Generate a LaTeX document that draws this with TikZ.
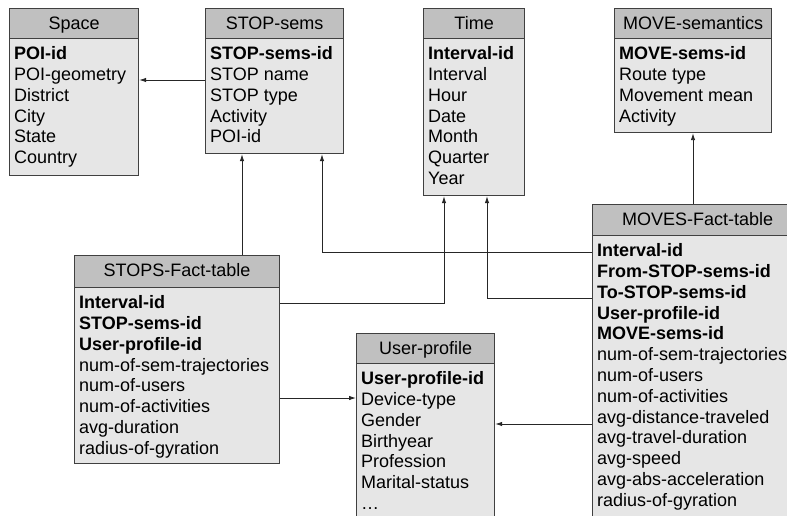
\documentclass[tikz,border=0pt]{standalone}
\usepackage{fontspec}
\setmainfont{Liberation Sans}
\usetikzlibrary{arrows.meta,calc}
\definecolor{hdrgray}{HTML}{C0C0C0}
\definecolor{bodygray}{HTML}{E6E6E6}
\definecolor{edgegray}{HTML}{404040}
\tikzset{
  tbody/.style={draw=edgegray, line width=1.2pt, fill=bodygray, inner sep=0pt, anchor=north west},
  thead/.style={draw=edgegray, line width=1.2pt, fill=hdrgray, inner sep=0pt, anchor=north west},
  ttitle/.style={anchor=base, inner sep=0pt, font=\fontsize{18}{20}\selectfont},
  trow/.style={anchor=base west, inner sep=0pt, font=\fontsize{18}{20}\selectfont},
  conn/.style={draw=black!85, line width=0.9pt, -{Latex[length=7pt,width=4.5pt]}}
}
% #1 name, #2 x, #3 y top, #4 width, #5 header height, #6 total height, #7 title, #8 rows
\newcommand\mytable[8]{%
  \node[tbody, minimum width=#4pt, minimum height=#6pt] (#1) at (#2,#3) {};
  \node[thead, minimum width=#4pt, minimum height=#5pt] (#1-h) at (#2,#3) {};
  \node[ttitle] (#1-t) at ($(#1-h.north)+(0,21.5)$) {#7};
  \foreach \rowtxt [count=\i from 0] in {#8} {
    \node[trow] (#1-r\i) at ($(#1-h.south west)+(5,20.5+20.8*\i)$) {\rowtxt};
  }
}
\begin{document}
\begin{tikzpicture}[x=1pt,y=-1pt]
\useasboundingbox (0,0) rectangle (787,516);
\clip (0,0) rectangle (787,516);
\fill[white] (0,0) rectangle (787,516);

\mytable{space}{9}{8}{129}{30}{167}{Space}{\textbf{POI-id},POI-geometry,District,City,State,Country}
\mytable{stopsems}{205}{8}{138}{30}{145}{STOP-sems}{\textbf{STOP-sems-id},STOP name,STOP type,Activity,POI-id}
\mytable{time}{423}{8}{101}{30}{187}{Time}{\textbf{Interval-id},Interval,Hour,Date,Month,Quarter,Year}
\mytable{movesem}{614}{8}{157}{30}{124}{MOVE-semantics}{\textbf{MOVE-sems-id},Route type,Movement mean,Activity}
\mytable{stops}{74}{255}{205}{32}{208}{STOPS-Fact-table}{\textbf{Interval-id},\textbf{STOP-sems-id},\textbf{User-profile-id},num-of-sem-trajectories,num-of-users,num-of-activities,avg-duration,radius-of-gyration}
\mytable{user}{356}{333}{138}{30}{200}{User-profile}{\textbf{User-profile-id},Device-type,Gender,Birthyear,Profession,Marital-status,\ldots}
\mytable{moves}{592}{204}{210}{31}{330}{MOVES-Fact-table}{\textbf{Interval-id},\textbf{From-STOP-sems-id},\textbf{To-STOP-sems-id},\textbf{User-profile-id},\textbf{MOVE-sems-id},num-of-sem-trajectories,num-of-users,num-of-activities,avg-distance-traveled,avg-travel-duration,avg-speed,avg-abs-acceleration,radius-of-gyration}

% guide coordinates
\coordinate (g1) at (0,80);
\coordinate (g2) at (242,0);
\coordinate (g3) at (322,252);
\coordinate (g4) at (444,303);
\coordinate (g5) at (487,298);
\coordinate (g6) at (693,0);
\coordinate (g7) at (0,398);
\coordinate (g8) at (0,424);

\draw[conn] (g1 -| stopsems.west) -- (g1 -| space.east);
\draw[conn] (g2 |- stops.north) -- (g2 |- stopsems.south);
\draw[conn] (g3 -| moves.west) -- (g3) -- (g3 |- stopsems.south);
\draw[conn] (g4 -| stops.east) -- (g4) -- (g4 |- time.south);
\draw[conn] (g5 -| moves.west) -- (g5) -- (g5 |- time.south);
\draw[conn] (g6 |- moves.north) -- (g6 |- movesem.south);
\draw[conn] (g7 -| stops.east) -- (g7 -| user.west);
\draw[conn] (g8 -| moves.west) -- (g8 -| user.east);
\end{tikzpicture}
\end{document}
